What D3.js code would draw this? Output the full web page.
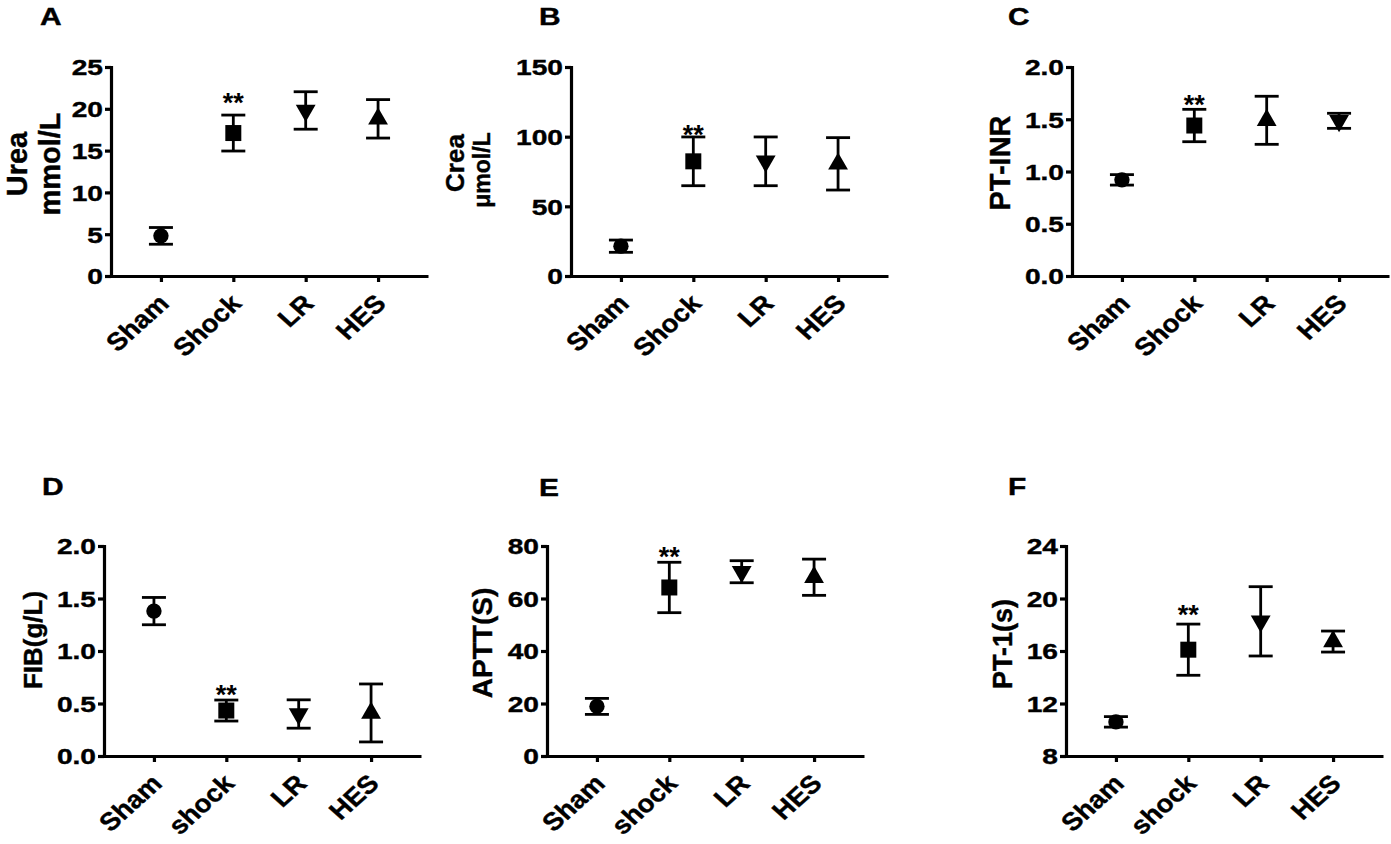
<!DOCTYPE html>
<html>
<head>
<meta charset="utf-8">
<script src="https://cdn.jsdelivr.net/npm/d3@7"></script>
<style>
  body { margin: 0; background: #fff; }
  svg text { font-family: "Liberation Sans", Arial, sans-serif; font-weight: bold; fill: #000; stroke: #000; stroke-width: 0.4px; }
</style>
</head>
<body>
<svg id="fig" width="1391" height="844"></svg>
<script>
// group names (bottom row uses lower-case "shock")
const groupsTop = ["Sham", "Shock", "LR", "HES"];
const groupsBottom = ["Sham", "shock", "LR", "HES"];

// A - urea
const ureaMean = [4.8, 17.1, 19.8, 18.8];
const ureaErr = [1.0, 2.15, 2.24, 2.3];
const ureaTicks = [0, 5, 10, 15, 20, 25];

// B - creatinine
const creaMean = [21.4, 82.3, 82.3, 80.5];
const creaErr = [4.4, 17.5, 17.5, 18.8];
const creaTicks = [0, 50, 100, 150];

// C - PT-INR
const inrMean = [0.92, 1.44, 1.49, 1.485];
const inrErr = [0.05, 0.155, 0.23, 0.072];
const inrTicks = [0, 0.5, 1.0, 1.5, 2.0];

// D - fibrinogen
const fibMean = [1.38, 0.433, 0.40, 0.41];
const fibErr = [0.13, 0.1, 0.135, 0.276];
const fibTicks = [0, 0.5, 1.0, 1.5, 2.0];

// E - APTT
const apttMean = [18.9, 64.2, 70.2, 68.1];
const apttErr = [3.05, 9.6, 4.2, 6.9];
const apttTicks = [0, 20, 40, 60, 80];

// F - PT
const ptMean = [10.6, 16.1, 18.26, 16.72];
const ptErr = [0.4, 1.95, 2.64, 0.8];
const ptTicks = [8, 12, 16, 20, 24];

// level of the "**" over the shock group, per panel A..F
const starLevel = [21.6, 107, 1.71, 0.65, 78.9, 19.3];

const shapesUsual = ["circle", "square", "down", "up"];
const shapesINR = ["circle", "square", "up", "down"];

const svg = d3.select("#fig");
const TXT_SX = 1.25;   // tick labels in the figure are drawn wide

const fmt1 = d3.format(".1f");
const fmt0 = d3.format("d");

const panels = [
  { letter: "A", lx: 40, ly: 25, x0: 111, top: true, mean: ureaMean, err: ureaErr, ticks: ureaTicks, fmt: fmt0, shapes: shapesUsual, star: starLevel[0],
    titles: [{ t: "Urea", bx: 27, cy: 164, fs: 29 }, { t: "mmol/L", bx: 60, cy: 164, fs: 29 }] },
  { letter: "B", lx: 539, ly: 25, x0: 571, top: true, mean: creaMean, err: creaErr, ticks: creaTicks, fmt: fmt0, shapes: shapesUsual, star: starLevel[1],
    titles: [{ t: "Crea", bx: 464, cy: 163, fs: 26 }, { t: "μmol/L", bx: 490, cy: 170, fs: 23 }] },
  { letter: "C", lx: 1008, ly: 25, x0: 1072, top: true, mean: inrMean, err: inrErr, ticks: inrTicks, fmt: fmt1, shapes: shapesINR, star: starLevel[2],
    titles: [{ t: "PT-INR", bx: 1010, cy: 163, fs: 29 }] },
  { letter: "D", lx: 42, ly: 495, x0: 104, top: false, mean: fibMean, err: fibErr, ticks: fibTicks, fmt: fmt1, shapes: shapesUsual, star: starLevel[3],
    titles: [{ t: "FIB(g/L)", bx: 42, cy: 640, fs: 26 }] },
  { letter: "E", lx: 539, ly: 496, x0: 547, top: false, mean: apttMean, err: apttErr, ticks: apttTicks, fmt: fmt0, shapes: shapesUsual, star: starLevel[4],
    titles: [{ t: "APTT(S)", bx: 492, cy: 643, fs: 28 }] },
  { letter: "F", lx: 1008, ly: 495, x0: 1066, top: false, mean: ptMean, err: ptErr, ticks: ptTicks, fmt: fmt0, shapes: shapesUsual, star: starLevel[5],
    titles: [{ t: "PT-1(s)", bx: 1012, cy: 644, fs: 27 }] }
];

function symbolPath(kind) {
  if (kind === "circle") return d3.symbol(d3.symbolCircle, 185)();
  if (kind === "square") return d3.symbol(d3.symbolSquare, 256)();
  return d3.symbol(d3.symbolTriangle, 170)();
}

panels.forEach(p => {
  const groups = p.top ? groupsTop : groupsBottom;
  const yBase = p.top ? 276 : 756;
  const yTop = p.top ? 67 : 546;
  const y = d3.scaleLinear().domain([p.ticks[0], p.ticks[p.ticks.length - 1]]).range([yBase, yTop]);
  const x = d3.scalePoint().domain(groups).range([p.x0, p.x0 + 317]).padding(0.69);
  const g = svg.append("g");

  // panel letter
  g.append("text")
    .attr("transform", `translate(${p.lx},${p.ly}) scale(1.3,1)`)
    .style("font-size", "23px")
    .text(p.letter);

  // y axis
  const ya = g.append("g")
    .attr("transform", `translate(${p.x0},0)`)
    .call(d3.axisLeft(y).tickValues(p.ticks).tickFormat(p.fmt).tickSize(6).tickSizeOuter(6));
  ya.selectAll("text")
    .attr("x", null).attr("dy", "0.35em")
    .attr("transform", `translate(-8,0) scale(${TXT_SX},1)`)
    .style("font-size", "22.5px");

  // x axis
  const xa = g.append("g")
    .attr("transform", `translate(0,${yBase})`)
    .call(d3.axisBottom(x).tickSize(6).tickSizeOuter(0));
  xa.selectAll("text")
    .attr("y", null).attr("dy", null)
    .attr("transform", "translate(9,29) scale(1.1,1) rotate(-45)")
    .style("text-anchor", "end")
    .style("font-size", "25px");

  g.selectAll(".domain, .tick line").attr("stroke", "#000").attr("stroke-width", 3.2);

  // y titles
  p.titles.forEach(t => {
    g.append("text")
      .attr("transform", `translate(${t.bx},${t.cy}) rotate(-90)`)
      .attr("text-anchor", "middle")
      .style("font-size", t.fs + "px")
      .text(t.t);
  });

  // error bars
  const rows = groups.map((k, i) => ({ k, m: p.mean[i], e: p.err[i], s: p.shapes[i] }));
  const eb = g.selectAll(".eb").data(rows).enter().append("g")
    .attr("stroke", "#000").attr("stroke-width", 2.8);
  eb.append("line")
    .attr("x1", d => x(d.k)).attr("x2", d => x(d.k))
    .attr("y1", d => y(d.m - d.e)).attr("y2", d => y(d.m + d.e));
  eb.append("line")
    .attr("x1", d => x(d.k) - 12).attr("x2", d => x(d.k) + 12)
    .attr("y1", d => y(d.m + d.e)).attr("y2", d => y(d.m + d.e));
  eb.append("line")
    .attr("x1", d => x(d.k) - 12).attr("x2", d => x(d.k) + 12)
    .attr("y1", d => y(d.m - d.e)).attr("y2", d => y(d.m - d.e));

  // markers
  g.selectAll(".mk").data(rows).enter().append("path")
    .attr("d", d => symbolPath(d.s))
    .attr("fill", "#000")
    .attr("transform", d => `translate(${x(d.k)},${y(d.m)})` + (d.s === "down" ? " rotate(180)" : ""));

  // significance stars over shock
  g.append("text")
    .attr("x", x(groups[1])).attr("y", y(p.star))
    .attr("dy", "0.62em")
    .attr("text-anchor", "middle")
    .style("font-size", "27px")
    .style("stroke-width", "0px")
    .text("**");
});
</script>
</body>
</html>
